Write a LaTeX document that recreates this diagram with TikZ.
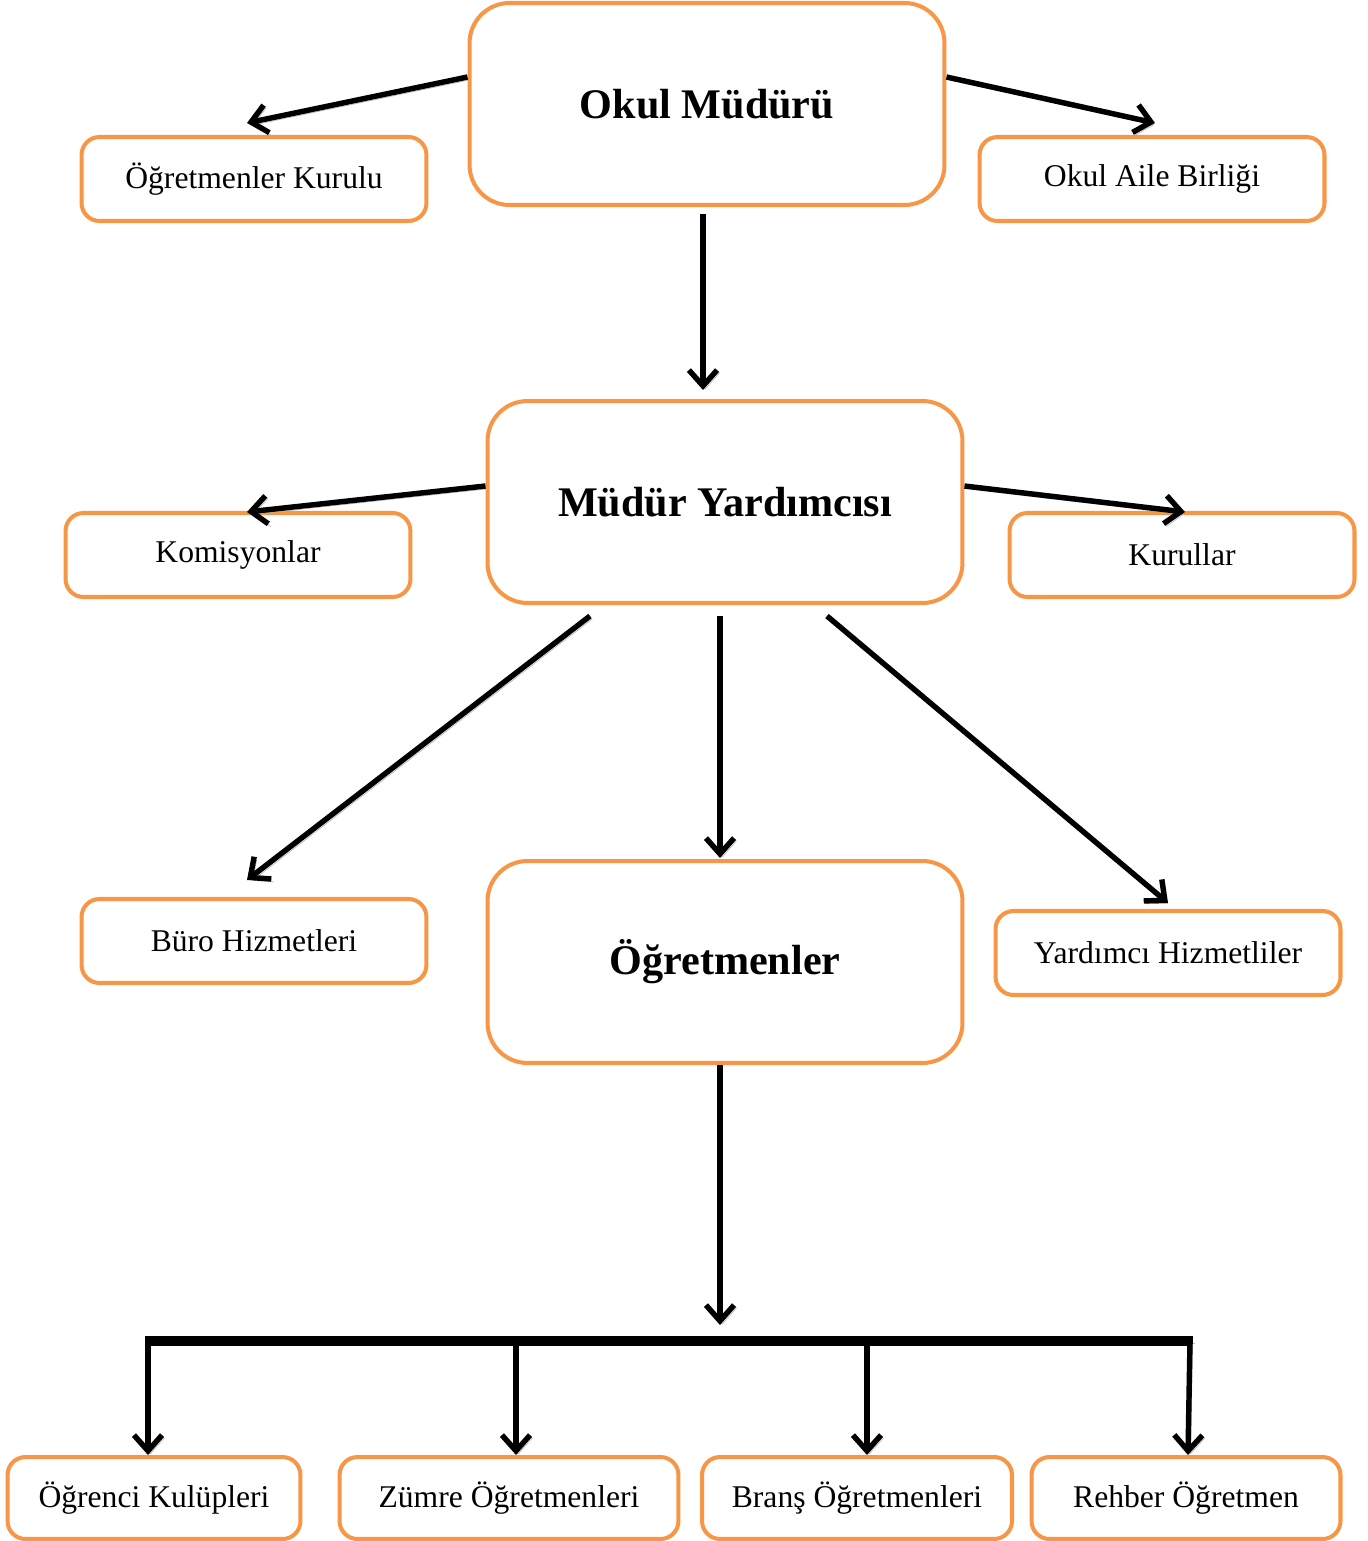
\documentclass[tikz,border=0pt]{standalone}
\usepackage{fontspec}
\setmainfont{Liberation Serif}
\usepackage{xcolor}
\usepackage{tikz}
\usetikzlibrary{arrows.meta,calc}
\definecolor{turuncu}{HTML}{F79646}

\begin{document}
\begin{tikzpicture}[x=0.02cm,y=-0.02cm,
  bigbox/.style={draw=turuncu,line width=2.3pt,rounded corners=0.8cm,minimum width=9.5cm,minimum height=4.04cm,font=\fontsize{24}{28}\selectfont\bfseries,inner sep=0pt},
  smallbox/.style={draw=turuncu,line width=2.3pt,rounded corners=0.36cm,minimum width=6.9cm,minimum height=1.68cm,font=\fontsize{18}{21}\selectfont,inner sep=0pt},
  arr/.style={line width=3.1pt,-{Straight Barb[length=9pt,width=16pt]},preaction={draw=gray!55,transform canvas={shift={(1.4pt,-1.6pt)}}}},
  bar/.style={line width=5.8pt,line cap=butt,preaction={draw=gray!55,transform canvas={shift={(1.4pt,-1.6pt)}}}}]
  \useasboundingbox (0,0) rectangle (1367,1541);
  % kutular
  \node[bigbox] (om) at (707,104) {Okul Müdürü};
  \node[smallbox] (ok) at (254,179) {Öğretmenler Kurulu};
  \node[smallbox] (oab) at (1152,179) {Okul Aile Birliği};
  \node[bigbox] (my) at (725,502) {Müdür Yardımcısı};
  \node[smallbox] (kom) at (238,555) {Komisyonlar};
  \node[smallbox] (kur) at (1182,555) {Kurullar};
  \node[smallbox] (buro) at (254,941) {Büro Hizmetleri};
  \node[bigbox] (ogr) at (725,962) {Öğretmenler};
  \node[smallbox] (yh) at (1168,953) {Yardımcı Hizmetliler};
  \node[smallbox,minimum width=5.86cm,minimum height=1.64cm] (kul) at (154,1498) {Öğrenci Kulüpleri};
  \node[smallbox,minimum width=6.78cm,minimum height=1.64cm] (zum) at (509,1498) {Zümre Öğretmenleri};
  \node[smallbox,minimum width=6.2cm,minimum height=1.64cm] (bra) at (857,1498) {Branş Öğretmenleri};
  \node[smallbox,minimum width=6.18cm,minimum height=1.64cm] (reh) at (1186,1498) {Rehber Öğretmen};
  % oklar
  \draw[arr] ($(om.west)+(0,-27)$) -- ($(ok.north)+(-7,-12)$);
  \draw[arr] ($(om.east)+(0,-27)$) -- ($(oab.north)+(3,-12)$);
  \draw[arr] ($(om.south)+(-4,7)$) -- ($(my.north)+(-22,-9)$);
  \draw[arr] ($(my.west)+(0,-16)$) -- ($(kom.north)+(9,1)$);
  \draw[arr] ($(my.east)+(0,-16)$) -- ($(kur.north)+(3,1)$);
  \draw[arr] ($(my.south)+(-135,11)$) -- ($(buro.north)+(-7,-17)$);
  \draw[arr] ($(my.south)+(-5,11)$) -- ($(ogr.north)+(-5,-1)$);
  \draw[arr] ($(my.south)+(102,11)$) -- ($(yh.north)+(0,-6)$);
  \coordinate (uc) at (720,1325);
  \draw[arr] ($(ogr.south)+(-5,0)$) -- (uc);
  \coordinate (b1) at (148,1341);
  \coordinate (b2) at (516,1341);
  \coordinate (b3) at (867,1341);
  \coordinate (b4) at (1190,1341);
  \draw[bar] ($(b1)+(-3,0)$) -- ($(b4)+(3,0)$);
  \draw[arr] (b1) -- (b1 |- kul.north);
  \draw[arr] (b2) -- (b2 |- zum.north);
  \draw[arr] (b3) -- (b3 |- bra.north);
  \draw[arr] (b4) -- ($(reh.north)+(2,0)$);
\end{tikzpicture}
\end{document}
